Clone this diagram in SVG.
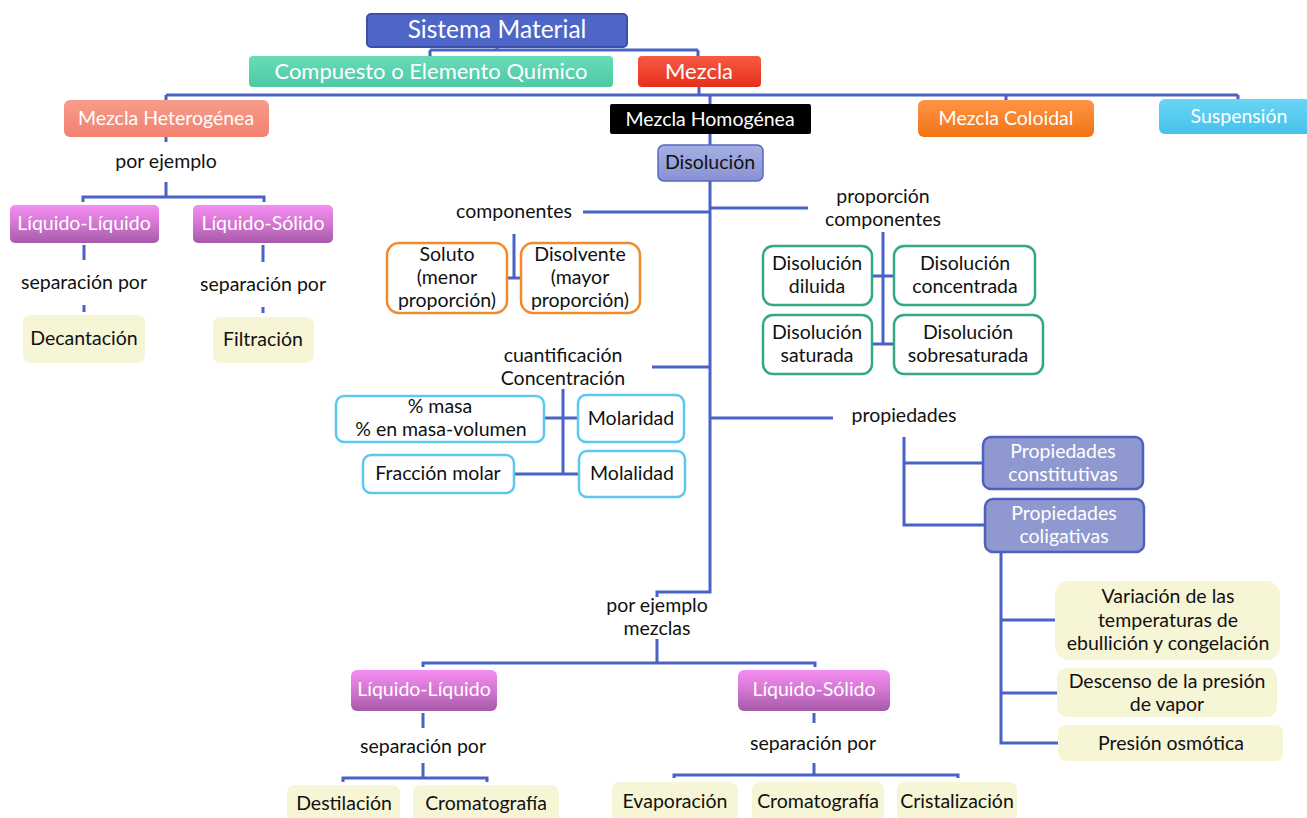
<svg xmlns="http://www.w3.org/2000/svg" width="1307" height="818" viewBox="0 0 1307 818">
<style>
text{font-family:Lato,"Liberation Sans",sans-serif;text-anchor:middle;fill:#111}
.w{fill:#fff}
.t1{font-size:24.5px}
.t2{font-size:22px}
.t3{font-size:19.5px}
.b{font-size:19.5px}
.conn path{fill:none;stroke:#4A62C4;stroke-width:3}
.orange{fill:#fff;stroke:#F08A2C;stroke-width:2.5}
.teal{fill:#fff;stroke:#33A886;stroke-width:2.5}
.sky{fill:#fff;stroke:#5CC8F0;stroke-width:2.5}
.cream{fill:#F6F5D6}
.prop{fill:#8F99CF;stroke:#4E61C0;stroke-width:2.5}
</style>
<defs>
<linearGradient id="gTeal" x1="0" y1="0" x2="0" y2="1"><stop offset="0" stop-color="#6ADBB9"/><stop offset="1" stop-color="#4CC9A5"/></linearGradient>
<linearGradient id="gRed" x1="0" y1="0" x2="0" y2="1"><stop offset="0" stop-color="#F75A45"/><stop offset="1" stop-color="#E5301A"/></linearGradient>
<linearGradient id="gSal" x1="0" y1="0" x2="0" y2="1"><stop offset="0" stop-color="#F79C8B"/><stop offset="1" stop-color="#F2816F"/></linearGradient>
<linearGradient id="gOr" x1="0" y1="0" x2="0" y2="1"><stop offset="0" stop-color="#FF9448"/><stop offset="1" stop-color="#F07414"/></linearGradient>
<linearGradient id="gSky" x1="0" y1="0" x2="0" y2="1"><stop offset="0" stop-color="#6AD4F5"/><stop offset="1" stop-color="#45C2EC"/></linearGradient>
<linearGradient id="gMag" x1="0" y1="0" x2="0" y2="1"><stop offset="0" stop-color="#F68DF3"/><stop offset="0.5" stop-color="#D376D1"/><stop offset="1" stop-color="#A65AA8"/></linearGradient>
<linearGradient id="gLav" x1="0" y1="0" x2="0" y2="1"><stop offset="0" stop-color="#A6AFE2"/><stop offset="1" stop-color="#8892D2"/></linearGradient>
</defs>

<g class="conn" id="connectors">
<path d="M497,47 V50 M430,50 H698 M430,50 V56 M698,50 V56"/>
<path d="M699,87 V95 M166,95 H1238 M166,95 V100 M710,95 V104 M1006,95 V100 M1238,95 V99"/>
<path d="M710,134 V145"/>
<path d="M710,181 V592 H657 V597"/>
<path d="M583,212 H710 M710,208 H808"/>
<path d="M514,234 V278 M507,278 H521"/>
<path d="M652,367 H710 M563,389 V474 M544,418 H578 M514,474 H579"/>
<path d="M883,232 V344 M872,276 H895 M872,344 H895"/>
<path d="M710,418 H833 M904,437 V525 H985 M904,463 H983"/>
<path d="M1001,552 V743 H1058 M1001,620 H1055 M1001,693 H1057"/>
<path d="M166,137 V142 M166,182 V197 M83,202 V197 H264 V202"/>
<path d="M84,245 V260 M84,305 V312 M263,245 V262 M263,307 V313"/>
<path d="M657,639 V663 M423,667 V663 H815 V667"/>
<path d="M423,713 V728 M423,763 V778 M343,782 V778 H487 V782"/>
<path d="M814,713 V723 M814,763 V775 M674,778 V775 H958 V778"/>
</g>

<g id="sistema"><rect x="367" y="14" width="260" height="33" rx="4" fill="#4F66C9" stroke="#3A4FA6" stroke-width="2"/><text class="t1 w" x="497" y="38">Sistema Material</text></g>
<g id="compuesto"><rect x="249" y="56" width="364" height="31" rx="4" fill="url(#gTeal)"/><text class="t2 w" x="431" y="79">Compuesto o Elemento Químico</text></g>
<g id="mezcla"><rect x="638" y="56" width="123" height="31" rx="4" fill="url(#gRed)"/><text class="t2 w" x="699" y="79">Mezcla</text></g>

<g id="heterogenea"><rect x="64" y="100" width="205" height="37" rx="6" fill="url(#gSal)"/><text class="t3 w" x="166" y="125">Mezcla Heterogénea</text></g>
<g id="homogenea"><rect x="610" y="104" width="201" height="30" rx="2" fill="#000"/><text class="t3 w" x="710" y="126">Mezcla Homogénea</text></g>
<g id="coloidal"><rect x="918" y="100" width="176" height="37" rx="6" fill="url(#gOr)"/><text class="t3 w" x="1006" y="125">Mezcla Coloidal</text></g>
<g id="suspension"><rect x="1159" y="99" width="152" height="35" rx="6" fill="url(#gSky)"/><text class="t3 w" x="1239" y="123">Suspensión</text></g>
<g id="disolucion"><rect x="658" y="145" width="105" height="36" rx="6" fill="url(#gLav)" stroke="#5568C2" stroke-width="1.5"/><text class="b" x="710" y="169">Disolución</text></g>

<g id="lbl-por-ejemplo-1"><text class="b" x="166" y="168">por ejemplo</text></g>
<g id="liq-liq-1"><rect x="10" y="205" width="149" height="38" rx="5" fill="url(#gMag)"/><text class="t3 w" x="84" y="230">Líquido-Líquido</text></g>
<g id="liq-sol-1"><rect x="193" y="205" width="140" height="38" rx="5" fill="url(#gMag)"/><text class="t3 w" x="263" y="230">Líquido-Sólido</text></g>
<g id="lbl-sep-1"><text class="b" x="84" y="289">separación por</text></g>
<g id="lbl-sep-2"><text class="b" x="263" y="291">separación por</text></g>
<g id="decantacion"><rect x="23" y="315" width="122" height="48" rx="8" class="cream"/><text class="b" x="84" y="345">Decantación</text></g>
<g id="filtracion"><rect x="213" y="317" width="101" height="46" rx="8" class="cream"/><text class="b" x="263" y="346">Filtración</text></g>

<g id="lbl-componentes"><text class="b" x="514" y="218">componentes</text></g>
<g id="soluto"><rect x="387" y="243" width="120" height="70" rx="12" class="orange"/><text class="b" x="447" y="261">Soluto</text><text class="b" x="447" y="284">(menor</text><text class="b" x="447" y="307">proporción)</text></g>
<g id="disolvente"><rect x="521" y="243" width="119" height="70" rx="12" class="orange"/><text class="b" x="580" y="261">Disolvente</text><text class="b" x="580" y="284">(mayor</text><text class="b" x="580" y="307">proporción)</text></g>

<g id="lbl-proporcion"><text class="b" x="883" y="203">proporción</text><text class="b" x="883" y="226">componentes</text></g>
<g id="diluida"><rect x="763" y="246" width="109" height="59" rx="10" class="teal"/><text class="b" x="817" y="270">Disolución</text><text class="b" x="817" y="293">diluida</text></g>
<g id="concentrada"><rect x="894" y="246" width="141" height="59" rx="10" class="teal"/><text class="b" x="965" y="270">Disolución</text><text class="b" x="965" y="293">concentrada</text></g>
<g id="saturada"><rect x="763" y="315" width="109" height="59" rx="10" class="teal"/><text class="b" x="817" y="339">Disolución</text><text class="b" x="817" y="362">saturada</text></g>
<g id="sobresaturada"><rect x="894" y="315" width="149" height="59" rx="10" class="teal"/><text class="b" x="968" y="339">Disolución</text><text class="b" x="968" y="362">sobresaturada</text></g>

<g id="lbl-cuantificacion"><text class="b" x="563" y="362">cuantificación</text><text class="b" x="563" y="385">Concentración</text></g>
<g id="masa"><rect x="336" y="396" width="208" height="46" rx="8" class="sky"/><text class="b" x="440" y="413">% masa</text><text class="b" x="441" y="436">% en masa-volumen</text></g>
<g id="molaridad"><rect x="578" y="395" width="106" height="47" rx="8" class="sky"/><text class="b" x="631" y="425">Molaridad</text></g>
<g id="fraccion"><rect x="363" y="455" width="151" height="38" rx="8" class="sky"/><text class="b" x="438" y="480">Fracción molar</text></g>
<g id="molalidad"><rect x="579" y="451" width="106" height="46" rx="8" class="sky"/><text class="b" x="632" y="480">Molalidad</text></g>

<g id="lbl-propiedades"><text class="b" x="904" y="422">propiedades</text></g>
<g id="constitutivas"><rect x="983" y="437" width="160" height="52" rx="8" class="prop"/><text class="b w" x="1063" y="458">Propiedades</text><text class="b w" x="1063" y="481">constitutivas</text></g>
<g id="coligativas"><rect x="985" y="499" width="159" height="53" rx="8" class="prop"/><text class="b w" x="1064" y="520">Propiedades</text><text class="b w" x="1064" y="543">coligativas</text></g>
<g id="variacion"><rect x="1055" y="581" width="225" height="79" rx="14" class="cream"/><text class="b" x="1168" y="603">Variación de las</text><text class="b" x="1168" y="627">temperaturas de</text><text class="b" x="1168" y="650">ebullición y congelación</text></g>
<g id="descenso"><rect x="1057" y="668" width="220" height="49" rx="10" class="cream"/><text class="b" x="1167" y="688">Descenso de la presión</text><text class="b" x="1167" y="711">de vapor</text></g>
<g id="osmotica"><rect x="1058" y="725" width="225" height="36" rx="8" class="cream"/><text class="b" x="1171" y="750">Presión osmótica</text></g>

<g id="lbl-por-ejemplo-2"><text class="b" x="657" y="612">por ejemplo</text><text class="b" x="657" y="635">mezclas</text></g>
<g id="liq-liq-2"><rect x="351" y="670" width="146" height="41" rx="6" fill="url(#gMag)"/><text class="t3 w" x="424" y="696">Líquido-Líquido</text></g>
<g id="liq-sol-2"><rect x="738" y="670" width="152" height="41" rx="6" fill="url(#gMag)"/><text class="t3 w" x="814" y="696">Líquido-Sólido</text></g>
<g id="lbl-sep-3"><text class="b" x="423" y="753">separación por</text></g>
<g id="lbl-sep-4"><text class="b" x="813" y="750">separación por</text></g>
<g id="destilacion"><rect x="287" y="785" width="113" height="40" rx="8" class="cream"/><text class="b" x="344" y="810">Destilación</text></g>
<g id="cromatografia-1"><rect x="413" y="785" width="146" height="40" rx="8" class="cream"/><text class="b" x="486" y="810">Cromatografía</text></g>
<g id="evaporacion"><rect x="612" y="782" width="126" height="40" rx="8" class="cream"/><text class="b" x="675" y="808">Evaporación</text></g>
<g id="cromatografia-2"><rect x="752" y="782" width="132" height="40" rx="8" class="cream"/><text class="b" x="818" y="808">Cromatografía</text></g>
<g id="cristalizacion"><rect x="897" y="782" width="120" height="40" rx="8" class="cream"/><text class="b" x="957" y="808">Cristalización</text></g>
</svg>
